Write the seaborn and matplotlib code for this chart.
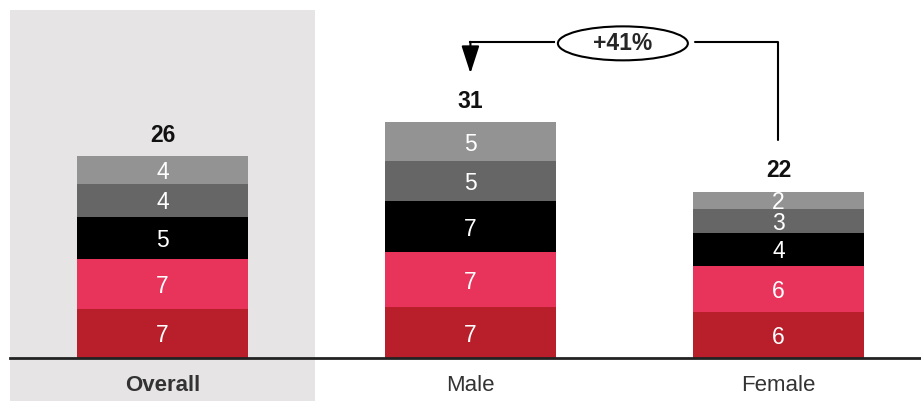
import matplotlib
matplotlib.use("Agg")
import matplotlib.pyplot as plt
from matplotlib.patches import Ellipse
import seaborn as sns
import pandas as pd
import numpy as np

# categories and stacked segment values (bottom -> top)
groups = ["Overall", "Male", "Female"]
seg_dark_red = [6.45, 6.7, 6.1]
seg_pink = [6.6, 7.25, 6.05]
seg_black = [5.5, 6.7, 4.35]
seg_dark_gray = [4.35, 5.25, 3.15]
seg_light_gray = [3.7, 5.15, 2.25]

# labels printed on the chart
lbl_dark_red = ["7", "7", "6"]
lbl_pink = ["7", "7", "6"]
lbl_black = ["5", "7", "4"]
lbl_dark_gray = ["4", "5", "3"]
lbl_light_gray = ["4", "5", "2"]
totals = ["26", "31", "22"]
change_label = "+41%"

colors = ["#B81F2B", "#E8345A", "#000000", "#666666", "#939393"]

segments = [seg_dark_red, seg_pink, seg_black, seg_dark_gray, seg_light_gray]
labels = [lbl_dark_red, lbl_pink, lbl_black, lbl_dark_gray, lbl_light_gray]

sns.set_style("white")
plt.rcParams["font.family"] = ["Liberation Sans", "DejaVu Sans"]

fig = plt.figure(figsize=(9.21, 4.01), dpi=100)
ax = fig.add_axes([10 / 921, 43 / 401, 911 / 921, 358 / 401])

# cumulative heights, drawn from the top layer down so the stacks overlap
cum = np.cumsum(np.array(segments), axis=0)
for i in range(len(segments) - 1, -1, -1):
    df = pd.DataFrame({"group": groups, "value": cum[i]})
    sns.barplot(data=df, x="group", y="value", order=groups, color=colors[i],
                saturation=1, width=0.555, ax=ax, zorder=2,
                linewidth=0, edgecolor="none")

# segment labels
for i, seg in enumerate(segments):
    bottoms = cum[i] - np.array(seg)
    for j, g in enumerate(groups):
        ax.text(j, bottoms[j] + seg[j] / 2, labels[i][j], ha="center",
                va="center_baseline", color="white", fontsize=16.5, zorder=3)

# totals on top
for j, g in enumerate(groups):
    ax.annotate(totals[j], (j, cum[-1][j]), xytext=(0, 15), textcoords="offset points",
                ha="center", va="center", fontsize=16.5, fontweight="bold", color="#111111")

# highlighted background for Overall
ax.axvspan(-0.495, 0.495, ymin=-43 / 358, ymax=(358 - 10) / 358, color="#E6E4E5",
           zorder=0, clip_on=False, lw=0)

ax.set_xlim(-0.495, 2.463)
ax.set_ylim(0, 358 / 7.6)

# change annotation between Female and Male
y_line = 41.6
ax.plot([2, 2, 1.73], [cum[-1][2] + 6.8, y_line, y_line], color="black", lw=1.5, zorder=3)
ax.plot([1.27, 1], [y_line, y_line], color="black", lw=1.5, zorder=3,
        solid_capstyle="projecting")
ax.annotate("", xy=(1, cum[-1][1] + 6.4), xytext=(1, y_line),
            arrowprops=dict(arrowstyle="-|>,head_length=1.7,head_width=0.55",
                            color="black", lw=1.5, shrinkA=0, shrinkB=0))
ax.add_patch(Ellipse((1.495, 41.4), 0.422, 4.47, facecolor="white", edgecolor="black",
                     lw=1.5, zorder=4))
ax.text(1.495, 41.4, change_label, ha="center", va="center", fontsize=16.5,
        fontweight="bold", zorder=5)

# axes styling
for s in ["top", "right", "left"]:
    ax.spines[s].set_visible(False)
ax.spines["bottom"].set_color("#222222")
ax.spines["bottom"].set_linewidth(2)
ax.spines["bottom"].set_zorder(4)
ax.set_yticks([])
ax.set_xlabel("")
ax.set_ylabel("")
ax.tick_params(axis="x", length=0, pad=12, labelsize=16, labelcolor="#333333")
ax.set_xticks(range(len(groups)))
ax.set_xticklabels(groups)
ax.get_xticklabels()[0].set_fontweight("bold")
ax.patch.set_alpha(0)

fig.savefig("out.png", dpi=100)
